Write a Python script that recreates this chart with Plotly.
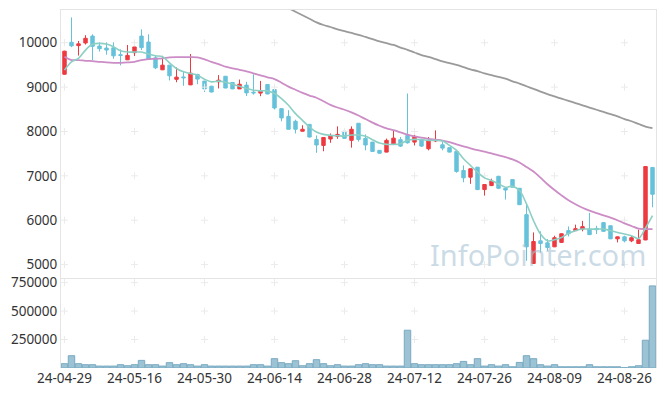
import plotly.graph_objects as go
from plotly.subplots import make_subplots

dates = [
    "24-04-29", "24-04-30", "24-05-02", "24-05-03", "24-05-07", "24-05-08", "24-05-09", "24-05-10", "24-05-13", "24-05-14",
    "24-05-16", "24-05-17", "24-05-20", "24-05-21", "24-05-22", "24-05-23", "24-05-24", "24-05-27", "24-05-28", "24-05-29",
    "24-05-30", "24-05-31", "24-06-03", "24-06-04", "24-06-05", "24-06-07", "24-06-10", "24-06-11", "24-06-12", "24-06-13",
    "24-06-14", "24-06-17", "24-06-18", "24-06-19", "24-06-20", "24-06-21", "24-06-24", "24-06-25", "24-06-26", "24-06-27",
    "24-06-28", "24-07-01", "24-07-02", "24-07-03", "24-07-04", "24-07-05", "24-07-08", "24-07-09", "24-07-10", "24-07-11",
    "24-07-12", "24-07-15", "24-07-16", "24-07-17", "24-07-18", "24-07-19", "24-07-22", "24-07-23", "24-07-24", "24-07-25",
    "24-07-26", "24-07-29", "24-07-30", "24-07-31", "24-08-01", "24-08-02", "24-08-05", "24-08-06", "24-08-07", "24-08-08",
    "24-08-09", "24-08-12", "24-08-13", "24-08-14", "24-08-16", "24-08-19", "24-08-20", "24-08-21", "24-08-22", "24-08-23",
    "24-08-26", "24-08-27", "24-08-28", "24-08-29", "24-08-30",
]

open_ = [
    9290, 10010, 9935, 9995, 10150, 9925, 9880, 9885, 9730, 9615,
    9775, 10150, 10015, 9660, 9390, 9495, 9175, 9230, 9050, 9285,
    9135, 9020, 9120, 9245, 9105, 8960, 9045, 8885, 8865, 9060,
    8945, 8515, 8340, 8230, 8005, 8160, 7820, 7685, 7830, 7890,
    8005, 7800, 8185, 7845, 7760, 7575, 7535, 7710, 7815, 7910,
    7760, 7820, 7610, 7785, 7700, 7635, 7550, 7120, 6970, 7195,
    6690, 6780, 6990, 6720, 6915, 6720, 6125, 5025, 5535, 5490,
    5400, 5500, 5765, 5765, 5800, 5800, 5815, 5945, 5875, 5580,
    5625, 5535, 5475, 5555, 7190,
]
close = [
    9810, 9930, 9975, 10100, 9920, 9865, 9835, 9705, 9715, 9715,
    9905, 9890, 9625, 9435, 9495, 9255, 9225, 9210, 9315, 9180,
    8960, 8890, 9155, 8980, 8960, 9065, 8870, 8870, 8905, 8845,
    8530, 8305, 8050, 8050, 8050, 7875, 7695, 7865, 7910, 7935,
    7845, 8050, 7820, 7695, 7550, 7510, 7800, 7850, 7670, 7745,
    7890, 7670, 7800, 7820, 7625, 7535, 7100, 6955, 7160, 6690,
    6805, 6880, 6720, 6680, 6745, 6350, 5400, 5520, 5475, 5385,
    5605, 5695, 5695, 5810, 5855, 5675, 5785, 5750, 5580, 5625,
    5535, 5605, 5560, 7210, 6585,
]
high = [
    9820, 10570, 10040, 10170, 10190, 10010, 10010, 10010, 9850, 9950,
    9910, 10300, 10190, 9715, 9705, 9500, 9445, 9365, 9745, 9300,
    9140, 9030, 9270, 9250, 9110, 9170, 9120, 9290, 9140, 9060,
    8950, 8520, 8480, 8265, 8140, 8165, 7910, 7870, 7955, 8115,
    8010, 8115, 8185, 7935, 7765, 7580, 7840, 8025, 7875, 8855,
    7950, 7840, 7875, 8025, 7760, 7640, 7555, 7235, 7165, 7200,
    6810, 6935, 7000, 6725, 6920, 6725, 6350, 5725, 5750, 5575,
    5650, 5700, 5860, 5900, 5985, 6165, 5875, 5960, 5880, 5630,
    5650, 5640, 5790, 7215, 7195,
]
low = [
    9280, 9900, 9710, 9960, 9610, 9800, 9730, 9640, 9490, 9610,
    9700, 9835, 9610, 9405, 9385, 9150, 9110, 9030, 9050, 9065,
    8890, 8880, 8970, 8975, 8955, 8955, 8800, 8830, 8795, 8840,
    8495, 8230, 8045, 7955, 8000, 7865, 7520, 7555, 7745, 7835,
    7840, 7635, 7770, 7575, 7545, 7500, 7530, 7705, 7650, 7725,
    7685, 7650, 7575, 7760, 7575, 7530, 7070, 6855, 6820, 6685,
    6555, 6770, 6700, 6465, 6740, 6345, 5085, 5020, 5270, 5310,
    5395, 5495, 5635, 5760, 5750, 5670, 5690, 5740, 5575, 5500,
    5500, 5505, 5470, 5550, 6290,
]
volume = [
    38000, 108000, 38000, 29000, 29000, 17000, 17000, 17000, 29000, 20000,
    29000, 67000, 29000, 29000, 17000, 47000, 29000, 38000, 29000, 17000,
    29000, 17000, 17000, 17000, 17000, 17000, 17000, 29000, 29000, 17000,
    82000, 47000, 38000, 64000, 20000, 38000, 73000, 38000, 20000, 29000,
    17000, 17000, 29000, 38000, 29000, 29000, 17000, 17000, 17000, 332000,
    38000, 29000, 29000, 29000, 29000, 29000, 38000, 58000, 29000, 82000,
    17000, 29000, 17000, 29000, 11000, 49000, 108000, 82000, 29000, 17000,
    29000, 11000, 11000, 11000, 11000, 29000, 11000, 11000, 11000, 11000,
    3000, 11000, 20000, 244000, 721000,
]
ma5 = [
    9383, 9570, 9647, 9835, 9964, 9986, 9970, 9910, 9819, 9790,
    9790, 9790, 9745, 9706, 9683, 9548, 9420, 9344, 9307, 9270,
    9179, 9118, 9134, 9111, 9066, 9021, 8970, 8930, 8915, 8915,
    8855, 8742, 8590, 8402, 8251, 8100, 7987, 7935, 7912, 7905,
    7896, 7919, 7919, 7890, 7815, 7738, 7709, 7709, 7724, 7799,
    7822, 7815, 7799, 7799, 7783, 7686, 7573, 7385, 7234, 7083,
    6955, 6894, 6820, 6743, 6766, 6668, 6367, 5990, 5688, 5537,
    5560, 5612, 5703, 5763, 5800, 5800, 5800, 5800, 5763, 5725,
    5688, 5650, 5590, 5824, 6102,
]
ma20 = [
    9683, 9609, 9609, 9593, 9586, 9570, 9556, 9548, 9548, 9556,
    9570, 9609, 9631, 9638, 9647, 9670, 9677, 9677, 9677, 9670,
    9625, 9570, 9520, 9460, 9420, 9390, 9355, 9310, 9265, 9220,
    9180, 9100, 9010, 8940, 8870, 8810, 8760, 8680, 8600, 8540,
    8490, 8430, 8360, 8280, 8200, 8130, 8070, 8030, 7980, 7930,
    7890, 7860, 7835, 7815, 7795, 7760, 7710, 7665, 7620, 7580,
    7545, 7505, 7460, 7420, 7370, 7300, 7200, 7100, 6960, 6810,
    6680, 6560, 6450, 6360, 6280, 6215, 6160, 6110, 6060, 6000,
    5930, 5870, 5810, 5800, 5800,
]
ma120 = [None] * 32 + [
    10780, 10700, 10620, 10540, 10460, 10400, 10355, 10300,
    10260, 10220, 10180, 10130, 10080, 10030, 9990, 9950, 9890, 9840,
    9780, 9720, 9680, 9630, 9580, 9540, 9500, 9450, 9400, 9360,
    9310, 9270, 9230, 9190, 9130, 9080, 9020, 8960, 8900, 8840,
    8790, 8740, 8690, 8640, 8590, 8540, 8490, 8440, 8390, 8340,
    8280, 8230, 8170, 8110, 8075,
]

tick_labels = ["24-04-29", "24-05-16", "24-05-30", "24-06-14", "24-06-28",
               "24-07-12", "24-07-26", "24-08-09", "24-08-26"]
price_ticks = [5000, 6000, 7000, 8000, 9000, 10000]
volume_ticks = [250000, 500000, 750000]

RED = "#ec3a40"
BLUE = "#66c2da"
FONT = "Noto Sans"
LINE = "#e4e4e4"
CROSS = "#ebebeb"

fig = make_subplots(rows=2, cols=1, shared_xaxes=True, vertical_spacing=0)

# grid crosses at tick intersections (drawn beneath the data)
cx, cy = [], []
for t in tick_labels:
    for v in price_ticks:
        cx.append(t); cy.append(v)
fig.add_trace(go.Scatter(x=cx, y=cy, mode="markers", hoverinfo="skip", showlegend=False,
                         marker=dict(symbol="cross-thin", size=5, line=dict(color=CROSS, width=1))),
              row=1, col=1)
vx, vy = [], []
for t in tick_labels:
    for v in volume_ticks:
        vx.append(t); vy.append(v)
fig.add_trace(go.Scatter(x=vx, y=vy, mode="markers", hoverinfo="skip", showlegend=False,
                         marker=dict(symbol="cross-thin", size=5, line=dict(color=CROSS, width=1))),
              row=2, col=1)

fig.add_trace(go.Scatter(x=dates, y=ma120, mode="lines", line=dict(color="#9a9a9a", width=1.8, shape="spline"),
                         showlegend=False, hoverinfo="skip"), row=1, col=1)
fig.add_trace(go.Scatter(x=dates, y=ma20, mode="lines", line=dict(color="#cc8cc6", width=1.8, shape="spline"),
                         showlegend=False, hoverinfo="skip"), row=1, col=1)
fig.add_trace(go.Scatter(x=dates, y=ma5, mode="lines", line=dict(color="#8ccfc4", width=1.6, shape="spline"),
                         showlegend=False, hoverinfo="skip"), row=1, col=1)

fig.add_trace(go.Candlestick(
    x=dates, open=open_, high=high, low=low, close=close,
    increasing=dict(line=dict(color=RED, width=1), fillcolor=RED),
    decreasing=dict(line=dict(color=BLUE, width=1), fillcolor=BLUE),
    showlegend=False), row=1, col=1)

fig.add_trace(go.Bar(x=dates, y=volume, marker=dict(color="rgba(150,192,210,0.95)",
                                                  line=dict(color="#7aaac2", width=1)),
                     showlegend=False), row=2, col=1)

# the page body adds an 8px offset; margins compensate for it
fig.update_layout(
    width=649, height=380,
    margin=dict(l=53, r=1, t=2, b=20.4, autoexpand=False),
    paper_bgcolor="white", plot_bgcolor="white",
    font=dict(family=FONT, size=13.5, color="#333333"),
    bargap=0.08,
    showlegend=False,
    annotations=[dict(text="InfoPointer.com", xref="paper", yref="paper", x=0.8025, y=0.318,
                      xanchor="center", yanchor="middle", showarrow=False,
                      font=dict(family=FONT, size=29, color="rgba(168,196,213,0.6)"))],
)

fig.update_xaxes(type="category", categoryorder="array", categoryarray=dates,
                 range=[-0.5, 84.5], showgrid=False, zeroline=False, automargin=False,
                 tickmode="array", tickvals=tick_labels, ticktext=tick_labels, tickangle=0,
                 ticks="", rangeslider=dict(visible=False))
fig.update_xaxes(showline=True, mirror=True, linecolor=LINE, linewidth=1, showticklabels=False, row=1, col=1)
fig.update_xaxes(showline=False, showticklabels=True, tickfont=dict(size=13.5), row=2, col=1)

fig.update_yaxes(range=[4691, 10738], domain=[0.2506, 1.0], tickvals=price_ticks, tickformat="d",
                 showgrid=False, zeroline=False, showline=True, mirror=True, linecolor=LINE, linewidth=1,
                 ticks="", automargin=False, row=1, col=1)
fig.update_yaxes(range=[0, 788000], domain=[0.0, 0.2506], tickvals=volume_ticks, tickformat="d",
                 showgrid=False, zeroline=False, showline=True, mirror=True, linecolor=LINE, linewidth=1,
                 ticks="", automargin=False, row=2, col=1)

fig.write_html("out.html")
